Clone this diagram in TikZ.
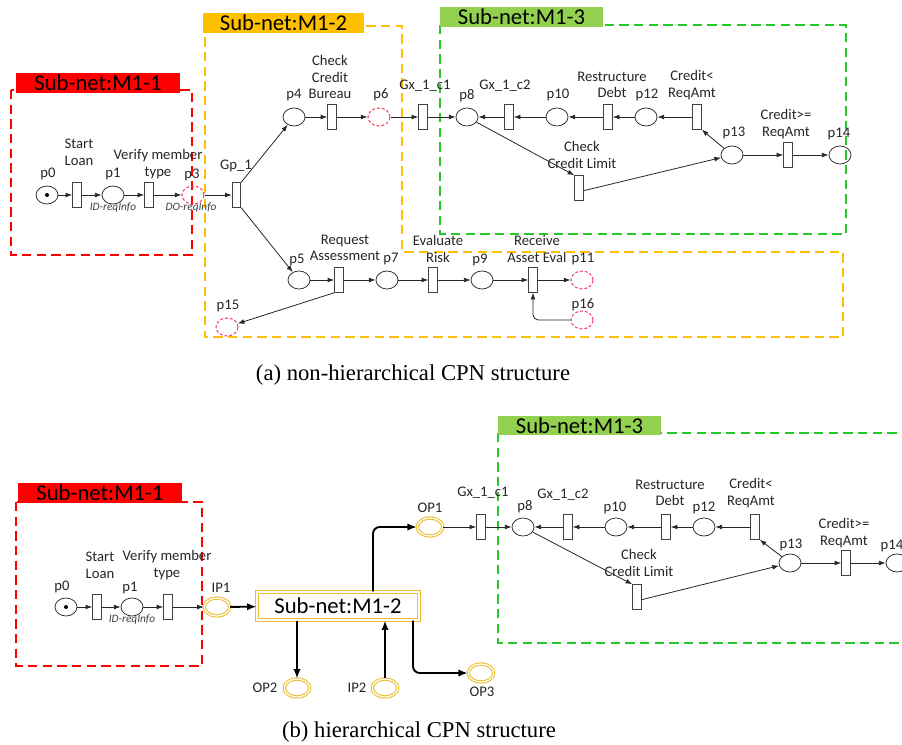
\documentclass[tikz,border=0pt]{standalone}
\usepackage{fontspec}
\setmainfont{Liberation Serif}
\newfontfamily\lblfont{Carlito}
\usetikzlibrary{shapes.geometric,arrows.meta}

\definecolor{netred}{RGB}{255,0,0}
\definecolor{netorange}{RGB}{255,192,0}
\definecolor{netgreenfill}{RGB}{146,208,80}
\definecolor{netgreen}{RGB}{40,200,40}
\definecolor{ghostred}{RGB}{250,60,95}
\definecolor{portgold}{RGB}{236,190,50}

\tikzset{
  place/.style={ellipse, draw=black!80, line width=0.6pt, minimum width=16.5pt,
    minimum height=13.5pt, inner sep=0pt},
  ghost/.style={place, draw=ghostred, line width=0.75pt, dash pattern=on 2.2pt off 1.5pt},
  port/.style={ellipse, draw=portgold, double=white, double distance=0.9pt,
    line width=0.8pt, minimum width=19pt, minimum height=13.5pt, inner sep=0pt},
  trans/.style={rectangle, draw=black!75, fill=white, line width=0.6pt,
    minimum width=6.5pt, minimum height=18.5pt, inner sep=0pt},
  lbl/.style={font=\lblfont\fontsize{11}{12.5}\selectfont, text=black!85,
    align=center, inner sep=0pt},
  note/.style={font=\lblfont\itshape\fontsize{8.5}{10}\selectfont, text=black!75,
    inner sep=0pt},
  arc/.style={-{Latex[length=5pt,width=3.6pt]}, line width=0.6pt, black!85},
  bigarc/.style={-{Latex[length=7pt,width=5.5pt]}, line width=1.4pt, black,
    rounded corners=5pt},
  netbox/.style={dash pattern=on 7pt off 4pt, line width=2.2pt},
  nettitle/.style={font=\lblfont\fontsize{17}{19}\selectfont, text=black,
    minimum height=15pt, inner sep=0pt},
  caption/.style={font=\fontsize{17}{20}\selectfont, inner sep=0pt},
}

\begin{document}
\begin{tikzpicture}[x=0.75pt, y=-0.75pt]
\useasboundingbox (0,0) rectangle (902,745);
\clip (0,0) rectangle (902,745);

% ---------------- (a) sub-net frames ----------------
\draw[netbox, netred] (11,90) rectangle (192,255);
\draw[netbox, netorange] (205,26) -- (402,26) -- (402,252) -- (843,252)
  -- (843,337) -- (205,337) -- cycle;
\draw[netbox, netgreen] (440,25) rectangle (846,234);
\node[nettitle, fill=netred, minimum width=123pt] (t1a) at (98,83) {Sub-net:M1-1};
\node[nettitle, fill=netorange, minimum width=120.75pt] (t2a) at (283.5,23) {Sub-net:M1-2};
\node[nettitle, fill=netgreenfill, minimum width=122.25pt] (t3a) at (521.5,17) {Sub-net:M1-3};

% ---------------- (a) places and transitions ----------------
\node[place] (p0a) at (47,195) {};
\fill[black] (p0a.center) circle (1.5pt);
\node[trans] (tsa) at (77,195) {};
\node[place] (p1a) at (113,195) {};
\node[trans] (tva) at (149,195) {};
\node[ghost] (p3a) at (193,195) {};
\node[trans] (gp1) at (236.5,195) {};

\node[place] (p4) at (294,117) {};
\node[trans] (tccb) at (332,117) {};
\node[ghost] (p6) at (379,117) {};
\node[trans] (gx1a) at (423,117) {};

\node[place] (p8a) at (467,117) {};
\node[trans] (gx2a) at (509,117) {};
\node[place] (p10a) at (557,117) {};
\node[trans] (trda) at (608,117) {};
\node[place] (p12a) at (646,117) {};
\node[trans] (crla) at (697,117) {};
\node[trans] (ccla) at (579,188) {};
\node[place] (p13a) at (732,155) {};
\node[trans] (cgea) at (788,155) {};
\node[place] (p14a) at (840,155) {};

\node[place] (p5) at (299,280) {};
\node[trans] (tra) at (339,280) {};
\node[place] (p7) at (387,280) {};
\node[trans] (ter) at (433,280) {};
\node[place] (p9) at (482,280) {};
\node[trans] (trae) at (533,280) {};
\node[ghost] (p11) at (582,280) {};
\node[ghost] (p16) at (582,320) {};
\node[ghost] (p15) at (227,327) {};

% ---------------- (a) labels ----------------
\node[lbl] (l0a) at (48,174) {p0};
\node[lbl] (lsa) at (79,152) {Start\\Loan};
\node[lbl] (l1a) at (113,174) {p1};
\node[lbl] (lva) at (158,164) {Verify member\\type};
\node[lbl] (l3a) at (192,175) {p3};
\node[lbl] (lgp) at (236,166) {Gp\_1};
\node[note] (ida) at (113,208) {ID-reqInfo};
\node[note] (doa) at (191,208) {DO-reqInfo};
\node[lbl] (l4) at (294,95) {p4};
\node[lbl] (lccb) at (330,77) {Check\\Credit\\Bureau};
\node[lbl] (l6) at (381,95) {p6};
\node[lbl] (lgx1a) at (425,86) {Gx\_1\_c1};
\node[lbl] (l8a) at (467,96) {p8};
\node[lbl] (lgx2a) at (505,86) {Gx\_1\_c2};
\node[lbl] (l10a) at (558,95) {p10};
\node[lbl] (ltrda) at (612,85) {Restructure\\Debt};
\node[lbl] (l12a) at (647,95) {p12};
\node[lbl] (lcrla) at (692,85) {Credit<\\ReqAmt};
\node[lbl] (lccla) at (582,155) {Check\\Credit Limit};
\node[lbl] (l13a) at (734,133) {p13};
\node[lbl] (lcgea) at (786,124) {Credit>=\\ReqAmt};
\node[lbl] (l14a) at (839,134) {p14};
\node[lbl] (l5) at (297,260) {p5};
\node[lbl] (ltra) at (345,248) {Request\\Assessment};
\node[lbl] (l7) at (391,259) {p7};
\node[lbl] (lter) at (438,249) {Evaluate\\Risk};
\node[lbl] (l9) at (480,260) {p9};
\node[lbl] (ltrae) at (537,249) {Receive\\Asset Eval};
\node[lbl] (l11) at (583,259) {p11};
\node[lbl] (l16) at (583,305) {p16};
\node[lbl] (l15) at (228,306) {p15};

% ---------------- (a) arcs ----------------
\draw[arc] (p0a) -- (tsa);
\draw[arc] (tsa) -- (p1a);
\draw[arc] (p1a) -- (tva);
\draw[arc] (tva) -- (p3a);
\draw[arc] (p3a) -- (gp1);
\draw[arc] (gp1.north east) -- (p4);
\draw[arc] (gp1.south east) -- (p5);
\draw[arc] (p4) -- (tccb);
\draw[arc] (tccb) -- (p6);
\draw[arc] (p6) -- (gx1a);
\draw[arc] (gx1a) -- (p8a);
\draw[arc] (gx2a) -- (p8a);
\draw[arc] (p10a) -- (gx2a);
\draw[arc] (trda) -- (p10a);
\draw[arc] (p12a) -- (trda);
\draw[arc] (crla) -- (p12a);
\draw[arc] (p13a) -- (crla.south east);
\draw[arc] (p8a) -- (ccla.north west);
\draw[arc] ([yshift=-2pt]ccla.east) -- (p13a);
\draw[arc] (p13a) -- (cgea);
\draw[arc] (cgea) -- (p14a);
\draw[arc] (p5) -- (tra);
\draw[arc] (tra) -- (p7);
\draw[arc] (p7) -- (ter);
\draw[arc] (ter) -- (p9);
\draw[arc] (p9) -- (trae);
\draw[arc] (trae) -- (p11);
\draw[arc, rounded corners=4pt] (p16) -| (trae.south);
\draw[arc] (tra.south west) -- (p15);

\node[caption] (capa) at (413,375) {(a) non-hierarchical CPN structure};

% ---------------- (b) sub-net frames ----------------
\draw[netbox, netred] (16,502) rectangle (202,666);
\draw[netbox, netgreen] (498,433) rectangle (920,643);
\node[nettitle, fill=netred, minimum width=123pt] (t1b) at (100,493) {Sub-net:M1-1};
\node[nettitle, fill=netgreenfill, minimum width=122.25pt, minimum height=14.5pt] (t3b) at (579.5,425.5) {Sub-net:M1-3};

% ---------------- (b) places and transitions ----------------
\node[place] (p0b) at (66,607) {};
\fill[black] (p0b.center) circle (1.5pt);
\node[trans] (tsb) at (97,607) {};
\node[place] (p1b) at (132,607) {};
\node[trans] (tvb) at (168,607) {};
\node[port] (ip1) at (217,607) {};

\node[nettitle, draw=portgold, double=white, double distance=0.9pt, line width=0.8pt,
  fill=white, minimum width=121.5pt, minimum height=21pt] (sub) at (338,606) {Sub-net:M1-2};

\node[port] (op1) at (430,527) {};
\node[port] (op2) at (297,688) {};
\node[port] (ip2) at (385,688) {};
\node[port] (op3) at (481,673) {};

\node[trans] (gx1b) at (481,527) {};
\node[place] (p8b) at (523,527) {};
\node[trans] (gx2b) at (568,527) {};
\node[place] (p10b) at (616,527) {};
\node[trans] (trdb) at (666,527) {};
\node[place] (p12b) at (704,527) {};
\node[trans] (crlb) at (755,527) {};
\node[trans] (cclb) at (637,597) {};
\node[place] (p13b) at (790,563) {};
\node[trans] (cgeb) at (846,563) {};
\node[place] (p14b) at (897,563) {};

% ---------------- (b) labels ----------------
\node[lbl] (l0b) at (62,587) {p0};
\node[lbl] (lsb) at (100,565) {Start\\Loan};
\node[lbl] (l1b) at (130,588) {p1};
\node[lbl] (lvb) at (167,565) {Verify member\\type};
\node[note] (idb) at (132,620) {ID-reqInfo};
\node[lbl] (lip1) at (221,588) {IP1};
\node[lbl] (lop1) at (430,508) {OP1};
\node[lbl] (lop2) at (265,688) {OP2};
\node[lbl] (lip2) at (357,688) {IP2};
\node[lbl] (lop3) at (482,692) {OP3};
\node[lbl] (lgx1b) at (483,493) {Gx\_1\_c1};
\node[lbl] (l8b) at (525,507) {p8};
\node[lbl] (lgx2b) at (563,495) {Gx\_1\_c2};
\node[lbl] (l10b) at (615,508) {p10};
\node[lbl] (ltrdb) at (670,493) {Restructure\\Debt};
\node[lbl] (l12b) at (704,508) {p12};
\node[lbl] (lcrlb) at (751,493) {Credit<\\ReqAmt};
\node[lbl] (lcclb) at (639,563) {Check\\Credit Limit};
\node[lbl] (l13b) at (791,545) {p13};
\node[lbl] (lcgeb) at (844,533) {Credit>=\\ReqAmt};
\node[lbl] (l14b) at (892,546) {p14};

% ---------------- (b) arcs ----------------
\coordinate (k1) at (373,0);
\coordinate (k3) at (413,0);
\draw[arc] (p0b) -- (tsb);
\draw[arc] (tsb) -- (p1b);
\draw[arc] (p1b) -- (tvb);
\draw[arc] (tvb) -- (ip1);
\draw[bigarc] (ip1) -- (sub);
\draw[bigarc] (sub.north -| k1) |- (op1);
\draw[bigarc] (sub.south -| op2) -- (op2);
\draw[bigarc] (ip2) -- (sub.south -| ip2);
\draw[bigarc] (sub.south -| k3) |- (op3);
\draw[arc] (op1) -- (gx1b);
\draw[arc] (gx1b) -- (p8b);
\draw[arc] (gx2b) -- (p8b);
\draw[arc] (p10b) -- (gx2b);
\draw[arc] (trdb) -- (p10b);
\draw[arc] (p12b) -- (trdb);
\draw[arc] (crlb) -- (p12b);
\draw[arc] (p13b) -- (crlb.south east);
\draw[arc] (p8b) -- (cclb.north west);
\draw[arc] ([yshift=-2pt]cclb.east) -- (p13b);
\draw[arc] (p13b) -- (cgeb);
\draw[arc] (cgeb) -- (p14b);

\node[caption] (capb) at (419,732) {(b) hierarchical CPN structure};
\end{tikzpicture}
\end{document}
